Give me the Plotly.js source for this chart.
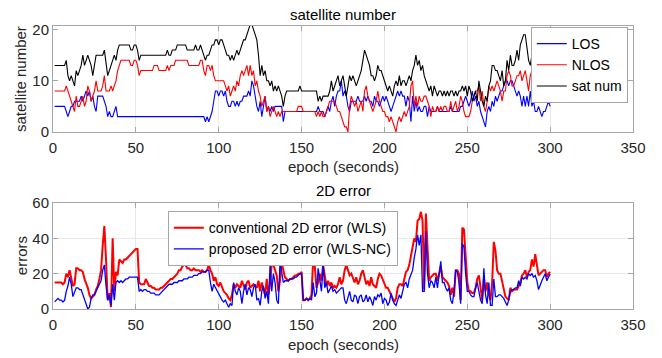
<!DOCTYPE html>
<html>
<head>
<meta charset="utf-8">
<script src="https://cdn.plot.ly/plotly-3.0.1.min.js"></script>
<style>html,body{margin:0;padding:0;background:#fff;}#chart{width:662px;height:358px;}</style>
</head>
<body>
<div id="chart"></div>
<script>
// epochs 1..300
const losCount = [
5,5,5,5,5,5,5,4,3,4,
5,5,6,6,6,6,7,6,7,8,
7,8,6,7,5,4,7,7,7,7,
6,5,3,4,3,3,4,5,3,3,
3,3,3,3,3,3,3,3,3,3,
3,3,3,3,3,3,3,3,3,3,
3,3,3,3,3,3,3,3,3,3,
3,3,3,3,3,3,3,3,3,3,
3,3,3,3,3,3,3,3,3,3,
3,2,3,2,3,4,6,8,8,7,
8,8,7,8,6,5,5,6,6,5,
6,5,6,6,7,7,7,8,7,10,
9,7,5,4,6,3,5,7,4,5,
4,5,4,5,5,5,5,5,2,4,
4,4,4,4,4,4,4,4,4,4,
4,4,4,4,4,4,4,4,4,5,
4,4,4,3,4,5,4,6,7,5,
7,8,8,10,7,8,7,5,4,6,
6,6,6,7,6,6,6,7,6,7,
6,6,5,7,6,6,5,6,7,6,
7,6,5,4,5,6,7,8,7,8,
7,7,5,7,6,2,7,4,6,4,
5,4,4,5,5,3,5,4,4,4,
4,5,4,4,4,4,4,4,4,5,
4,4,4,4,4,5,5,6,7,6,
5,6,8,6,7,5,6,4,3,2,
1,4,5,4,6,5,7,6,7,8,
8,9,10,10,9,10,10,9,8,7,
8,7,5,7,5,7,5,8,5,6,
4,4,5,4,3,4,4,5,6,5
];
const nlosCount = [
8,8,8,8,8,8,8,9,8,7,
6,5,4,7,5,5,6,7,5,6,
9,8,6,7,8,10,8,8,8,9,
11,8,8,8,9,8,9,10,12,13,
14,14,14,14,14,14,13,13,14,14,
13,11,12,12,12,12,12,12,12,12,
13,13,13,12,12,12,12,12,13,12,
13,13,13,14,14,14,14,14,14,14,
14,13,13,13,13,13,13,13,14,14,
12,11,13,13,12,13,11,10,10,10,
10,10,10,9,8,9,7,8,9,8,
10,9,11,12,11,12,13,11,13,11,
12,9,10,8,7,5,6,7,4,5,
3,4,5,4,3,4,3,4,4,4,
4,4,4,4,4,4,4,5,5,5,
4,4,4,4,4,4,4,4,3,4,
3,4,3,3,4,5,6,6,6,6,
5,4,4,3,2,1,1,0,5,7,
6,5,6,4,5,6,4,8,9,7,
6,5,4,5,6,8,6,5,4,4,
3,3,2,3,2,1,0,2,3,2,
3,4,3,4,5,9,10,5,7,5,
7,6,6,7,7,6,5,3,5,4,
4,5,4,5,4,5,5,4,4,6,
4,5,6,4,5,7,6,4,3,3,
3,4,6,7,8,8,9,6,8,5,
4,6,9,8,9,8,9,10,9,8,
6,8,8,11,12,11,9,9,10,11,
11,12,10,11,12,10,8,11,12,12,
12,9,10,12,11,12,12,8,9,8
];
const satNum = [
13,13,13,13,13,13,13,14,11,10,
11,10,9,12,11,12,13,15,13,14,
15,14,13,11,13,15,15,15,15,15,
16,13,11,12,13,14,15,14,16,17,
17,17,17,17,17,17,16,16,17,17,
16,14,15,15,15,15,15,15,15,15,
15,15,15,15,15,15,15,15,16,15,
15,16,16,16,17,17,17,17,17,17,
16,16,16,16,16,17,16,16,17,16,
15,14,15,15,16,17,17,18,18,17,
18,18,17,16,15,15,14,15,14,15,
16,15,16,17,18,18,19,20,21,21,
20,19,18,15,11,13,11,12,10,10,
9,10,8,9,8,9,8,7,5,7,
8,8,8,8,8,8,8,8,9,8,
8,8,8,8,8,8,8,8,8,6,
7,6,7,7,7,7,8,10,8,9,
10,11,9,10,11,9,7,9,11,10,
11,10,9,10,11,12,14,16,15,14,
13,11,11,10,11,13,12,12,11,10,
9,8,9,8,7,9,10,9,11,9,
10,10,9,10,11,10,12,13,15,13,
14,12,13,11,10,9,8,9,7,9,
8,7,8,8,7,8,7,8,7,8,
8,7,8,7,8,8,9,8,9,7,
9,8,6,7,8,6,10,8,6,5,
7,6,9,10,13,13,12,12,11,10,
12,9,10,14,12,15,13,13,14,16,
14,17,18,19,19,16,14,13,15,17,
15,14,13,15,12,14,11,10,12,12
];
const errWLS = [
15,15,15,15,15,14,15,20,18,22,
17,13,14,23,23,22,22,21,17,15,
12,8,6,7,8,11,13,17,22,36,
47,28,5,9,1,40,10,21,19,28,
27,26,28,28,29,30,31,32,33,34,
34,15,14,14,14,17,15,13,13,12,
12,11,11,11,12,12,13,14,15,16,
17,17,18,19,20,22,22,24,25,25,
23,23,22,22,23,22,22,22,21,22,
21,21,22,25,22,20,16,18,14,13,
15,12,10,9,8,6,5,8,14,12,
14,13,12,16,13,11,15,16,12,13,
14,13,12,16,10,15,12,8,17,8,
14,26,25,22,19,10,16,26,22,18,
17,16,17,17,18,19,19,20,20,21,
5,5,6,5,6,8,28,24,12,15,
20,16,25,18,13,16,13,15,12,13,
12,14,18,14,16,22,25,22,19,20,
17,15,18,14,16,20,22,18,14,16,
13,18,14,13,12,17,20,19,17,15,
12,12,10,8,6,4,6,12,14,14,
13,18,21,22,25,30,36,40,38,50,
51,55,50,11,54,30,16,18,19,20,
20,16,20,24,18,17,16,15,13,8,
12,7,22,22,20,5,46,45,30,15,
10,10,9,9,12,17,19,10,5,17,
10,15,8,5,15,38,33,22,20,20,
15,12,7,6,5,12,10,11,11,11,
13,15,19,20,22,18,21,22,28,24,
31,25,19,20,21,22,22,18,20,21
];
const errWLSNC = [
4,5,6,5,5,4,5,10,13,18,
14,7,9,12,12,11,11,8,5,2,
0,1,6,8,8,10,12,14,16,22,
25,13,5,8,2,14,5,15,16,15,
16,15,16,17,17,18,18,18,18,18,
18,10,11,10,11,11,10,10,9,9,
9,8,8,8,9,10,11,12,13,14,
14,14,15,15,15,16,16,16,17,17,
17,18,18,18,19,19,19,20,20,21,
21,21,22,22,15,10,14,12,10,8,
6,5,4,5,3,1,3,2,15,10,
8,12,10,3,10,14,8,12,11,7,
12,14,5,6,2,10,13,6,10,3,
25,10,20,15,5,3,27,20,15,16,
16,16,17,17,17,18,18,19,20,20,
5,5,6,5,6,5,15,7,9,23,
15,10,25,12,15,9,11,13,10,11,
9,10,11,12,12,5,3,7,10,5,
4,8,7,3,7,8,4,5,8,4,
7,5,2,7,5,8,7,9,3,6,
5,2,4,9,5,3,2,5,8,6,
10,14,15,12,17,20,22,29,34,42,
36,42,10,10,44,20,12,16,15,12,
18,12,20,27,15,15,12,10,12,5,
3,10,22,21,15,3,37,35,20,10,
10,8,7,7,12,15,10,5,3,23,
8,3,15,2,2,17,7,7,8,8,
7,6,4,2,5,10,11,11,12,12,
16,13,18,17,18,17,20,19,20,18,
19,16,11,13,16,18,20,16,18,20
];
const xTicks = [0, 50, 100, 150, 200, 250, 300, 350];
const topYTicks = [0, 10, 20];
const botYTicks = [0, 20, 40, 60];

const epochs = losCount.map((_, i) => i + 1);

const FONT = 'Liberation Sans, Arial, sans-serif';
const TXT = '#262626';

const traces = [
  {x: epochs, y: losCount, type: 'scatter', mode: 'lines', name: 'LOS', line: {color: '#0000ff', width: 1.1}, xaxis: 'x', yaxis: 'y', legend: 'legend'},
  {x: epochs, y: nlosCount, type: 'scatter', mode: 'lines', name: 'NLOS', line: {color: '#ff0000', width: 1.1}, xaxis: 'x', yaxis: 'y', legend: 'legend'},
  {x: epochs, y: satNum, type: 'scatter', mode: 'lines', name: 'sat num', line: {color: '#000000', width: 1.1}, xaxis: 'x', yaxis: 'y', legend: 'legend'},
  {x: epochs, y: errWLS, type: 'scatter', mode: 'lines', name: 'conventional 2D error (WLS)', line: {color: '#ff0000', width: 2}, xaxis: 'x2', yaxis: 'y2', legend: 'legend2'},
  {x: epochs, y: errWLSNC, type: 'scatter', mode: 'lines', name: 'proposed 2D error (WLS-NC)', line: {color: '#0000ff', width: 1.3}, xaxis: 'x2', yaxis: 'y2', legend: 'legend2'}
];

const axCommon = {
  showline: true, linecolor: '#a6a6a6', linewidth: 1, mirror: 'ticks',
  ticks: 'inside', ticklen: 5, tickcolor: '#a6a6a6', tickwidth: 1,
  zeroline: false, gridcolor: '#e8e8e8', gridwidth: 1,
  tickfont: {family: FONT, size: 15, color: TXT}, automargin: false
};

const layout = {
  width: 662, height: 358,
  margin: {l: 53, r: 29, t: 26, b: 49},
  paper_bgcolor: '#ffffff', plot_bgcolor: '#ffffff',
  showlegend: true,
  font: {family: FONT, size: 15, color: TXT},
  xaxis: Object.assign({}, axCommon, {domain: [0, 1], anchor: 'y', range: [0, 350], tickvals: xTicks, showgrid: true, ticklabelstandoff: 2}),
  yaxis: Object.assign({}, axCommon, {domain: [0.6254, 1], anchor: 'x', range: [0, 20.7], tickvals: topYTicks, showgrid: false}),
  xaxis2: Object.assign({}, axCommon, {domain: [0, 1], anchor: 'y2', range: [0, 350], tickvals: xTicks, showgrid: true, ticklabelstandoff: 2}),
  yaxis2: Object.assign({}, axCommon, {domain: [0, 0.3746], anchor: 'x2', range: [0, 60], tickvals: botYTicks, showgrid: true}),
  legend: {
    x: 0.991, xanchor: 'right', y: 0.9965, yanchor: 'top',
    bgcolor: '#ffffff', bordercolor: '#a6a6a6', borderwidth: 1,
    font: {family: FONT, size: 14, color: '#000'}, tracegroupgap: 0
  },
  legend2: {
    x: 0.198, xanchor: 'left', y: 0.346, yanchor: 'top',
    bgcolor: '#ffffff', bordercolor: '#a6a6a6', borderwidth: 1,
    font: {family: FONT, size: 14, color: '#000'}, tracegroupgap: 0
  },
  annotations: [
    {text: 'satellite number', xref: 'paper', yref: 'paper', x: 0.5, y: 1.042, showarrow: false, font: {family: FONT, size: 15, color: '#000'}, xanchor: 'center', yanchor: 'middle'},
    {text: 'epoch (seconds)', xref: 'paper', yref: 'paper', x: 0.5, y: 0.505, showarrow: false, font: {family: FONT, size: 15, color: TXT}, xanchor: 'center', yanchor: 'middle'},
    {text: 'satellite number', xref: 'paper', yref: 'paper', x: -0.055, y: 0.813, showarrow: false, textangle: -90, font: {family: FONT, size: 15, color: TXT}, xanchor: 'center', yanchor: 'middle'},
    {text: '2D error', xref: 'paper', yref: 'paper', x: 0.5, y: 0.418, showarrow: false, font: {family: FONT, size: 15, color: '#000'}, xanchor: 'center', yanchor: 'middle'},
    {text: 'epoch (seconds)', xref: 'paper', yref: 'paper', x: 0.5, y: -0.125, showarrow: false, font: {family: FONT, size: 15, color: TXT}, xanchor: 'center', yanchor: 'middle'},
    {text: 'errors', xref: 'paper', yref: 'paper', x: -0.055, y: 0.187, showarrow: false, textangle: -90, font: {family: FONT, size: 15, color: TXT}, xanchor: 'center', yanchor: 'middle'}
  ]
};

Plotly.newPlot('chart', traces, layout, {displayModeBar: false, staticPlot: true});
</script>
</body>
</html>
